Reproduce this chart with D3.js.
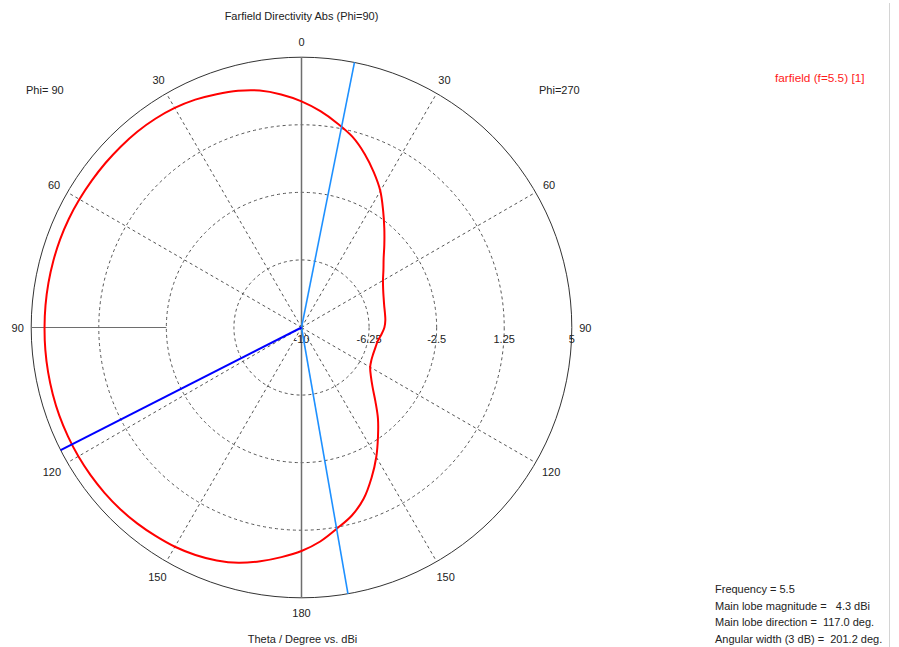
<!DOCTYPE html>
<html>
<head>
<meta charset="utf-8">
<script src="https://cdn.jsdelivr.net/npm/d3@7"></script>
<style>
  body { margin: 0; background: #fff; }
  svg { display: block; }
  text { font-family: "Liberation Sans", Arial, sans-serif; font-size: 11px; fill: #222; }
</style>
</head>
<body>
<svg id="chart" width="899" height="647"></svg>
<script>
// ---------------- data ----------------
const thetaDeg = [0,5,10,15,20,25,30,35,40,45,50,55,60,65,70,75,80,85,90,95,100,105,110,115,120,125,130,135,140,145,150,155,160,165,170,175,180];
// directivity (dBi) on the Phi=90 half (drawn on the left)
const dirPhi90 = [2.55,2.98,3.35,3.60,3.78,3.95,4.07,4.14,4.18,4.19,4.20,4.21,4.23,4.25,4.26,4.26,4.26,4.26,4.26,4.27,4.28,4.29,4.30,4.30,4.30,4.29,4.27,4.24,4.19,4.12,4.05,3.93,3.76,3.52,3.17,2.79,2.40];
// directivity (dBi) on the Phi=270 half (drawn on the right)
const dirPhi270 = [2.55,2.05,1.50,0.95,0.25,-0.50,-1.25,-2.10,-2.85,-3.50,-4.05,-4.45,-4.78,-5.00,-5.15,-5.25,-5.30,-5.33,-5.40,-5.55,-5.70,-5.75,-5.76,-5.72,-5.60,-5.30,-4.85,-4.20,-3.40,-2.60,-1.70,-0.80,0.10,0.80,1.33,1.92,2.40];

const ringValues = [-10, -6.25, -2.5, 1.25, 5];
const ringLabels = ["-10", "-6.25", "-2.5", "1.25", "5"];
const angleTicks = [0, 30, 60, 90, 120, 150, 180];
const spokeAngles = [30, 60, 120, 150];
const mainLobeTheta = 117.0;          // on Phi=90 side
const beamEdgesPhi270 = [11.3, 170.1]; // 3 dB edges, on Phi=270 side
const titleText = "Farfield Directivity Abs (Phi=90)";
const axisTitle = "Theta / Degree vs. dBi";
const legendText = "farfield (f=5.5) [1]";
const infoLines = ["Frequency = 5.5", "Main lobe magnitude =   4.3 dBi", "Main lobe direction =  117.0 deg.", "Angular width (3 dB) =  201.2 deg."];

// ---------------- layout ----------------
const svg = d3.select("#chart");
const cx = 301.5, cy = 327.5, R = 270.3;
const rScale = d3.scaleLinear().domain([-10, 5]).range([0, R]);
const g = svg.append("g").attr("transform", `translate(${cx},${cy})`);
const rad = d => d * Math.PI / 180;
const pt = (aDeg, r) => [r * Math.sin(rad(aDeg)), -r * Math.cos(rad(aDeg))];

// panel border on the right
svg.append("line").attr("x1", 889.5).attr("x2", 889.5).attr("y1", 3).attr("y2", 647)
  .attr("stroke", "#d4d4d4").attr("stroke-width", 1);

// dashed rings
g.selectAll("circle.ring").data(ringValues.slice(1, -1)).join("circle")
  .attr("class", "ring").attr("r", d => rScale(d))
  .attr("fill", "none").attr("stroke", "#555").attr("stroke-width", 1).attr("stroke-dasharray", "3,3");

// dashed spokes on both sides
const spokes = [];
spokeAngles.forEach(a => { spokes.push(a); spokes.push(-a); });
g.selectAll("line.spoke").data(spokes).join("line")
  .attr("class", "spoke")
  .attr("x1", 0).attr("y1", 0)
  .attr("x2", d => pt(d, R)[0]).attr("y2", d => pt(d, R)[1])
  .attr("stroke", "#555").attr("stroke-width", 1).attr("stroke-dasharray", "3,3");

// outer circle
g.append("circle").attr("r", rScale(5)).attr("fill", "none").attr("stroke", "#333").attr("stroke-width", 1);

// solid vertical axis
g.append("line").attr("x1", 0).attr("y1", -R).attr("x2", 0).attr("y2", R)
  .attr("stroke", "#6e6e6e").attr("stroke-width", 1.5);
// solid left horizontal segment
g.append("line")
  .attr("x1", pt(-90, rScale(-2.5))[0]).attr("y1", 0)
  .attr("x2", pt(-90, R)[0]).attr("y2", 0)
  .attr("stroke", "#6e6e6e").attr("stroke-width", 1);

// ring labels
g.selectAll("text.rl").data(ringValues).join("text")
  .attr("class", "rl")
  .attr("x", d => rScale(d)).attr("y", 15)
  .attr("text-anchor", "middle")
  .text((d, i) => ringLabels[i]);

// angle labels
const angleLab = [];
angleTicks.forEach(a => {
  angleLab.push({a: -a, t: String(a)});
  if (a !== 0 && a !== 180) angleLab.push({a: a, t: String(a)});
});
const labOff = d => (Math.abs(Math.abs(d.a) - 90) < 1 ? 13.5 : (Math.abs(d.a) === 120 || Math.abs(d.a) === 150 ? 18 : 15.5));
g.selectAll("text.al").data(angleLab).join("text")
  .attr("class", "al")
  .attr("x", d => pt(d.a, R + labOff(d))[0])
  .attr("y", d => pt(d.a, R + labOff(d))[1])
  .attr("text-anchor", "middle").attr("dominant-baseline", "central")
  .text(d => d.t);

// pattern curve
const pts = [];
thetaDeg.forEach((t, i) => pts.push([rad(t), rScale(dirPhi270[i])]));
for (let i = thetaDeg.length - 2; i >= 1; i--) pts.push([rad(360 - thetaDeg[i]), rScale(dirPhi90[i])]);
const radial = d3.lineRadial().angle(d => d[0]).radius(d => d[1]).curve(d3.curveCatmullRomClosed);
g.append("path").attr("d", radial(pts)).attr("fill", "none").attr("stroke", "#ff0000").attr("stroke-width", 2);

// 3 dB beam edges
g.selectAll("line.edge").data(beamEdgesPhi270).join("line")
  .attr("class", "edge")
  .attr("x1", 0).attr("y1", 0)
  .attr("x2", d => pt(d, R)[0]).attr("y2", d => pt(d, R)[1])
  .attr("stroke", "#1e90ff").attr("stroke-width", 1.6);

// main lobe direction
g.append("line").attr("x1", 0).attr("y1", 0)
  .attr("x2", pt(-mainLobeTheta, R)[0]).attr("y2", pt(-mainLobeTheta, R)[1])
  .attr("stroke", "#0000ff").attr("stroke-width", 2);

// texts
svg.append("text").attr("x", 301.5).attr("y", 20).attr("text-anchor", "middle").text(titleText);
svg.append("text").attr("x", 302.5).attr("y", 643).attr("text-anchor", "middle").text(axisTitle);
svg.append("text").attr("x", 26).attr("y", 94).text("Phi= 90");
svg.append("text").attr("x", 539).attr("y", 94).text("Phi=270");
svg.append("text").attr("x", 775).attr("y", 82).style("fill", "#ff1a1a").style("font-size", "11.8px").text(legendText);

svg.selectAll("text.info").data(infoLines).join("text")
  .attr("class", "info")
  .attr("x", 715).attr("y", (d, i) => 593 + i * 16.6)
  .attr("xml:space", "preserve").style("white-space", "pre")
  .text(d => d);
</script>
</body>
</html>
